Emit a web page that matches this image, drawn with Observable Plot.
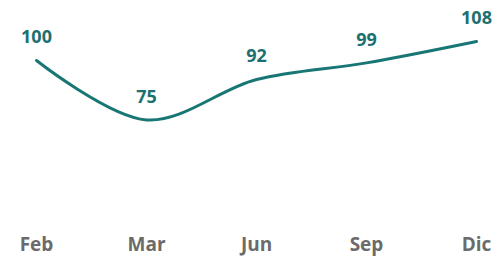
<!DOCTYPE html>
<html>
<head>
<meta charset="utf-8">
<script src="https://cdn.jsdelivr.net/npm/d3@7"></script>
<script src="https://cdn.jsdelivr.net/npm/@observablehq/plot@0.6"></script>
<style>
  html, body { margin: 0; padding: 0; background: #fff; }
  svg { display: block; }
</style>
</head>
<body>
<div id="chart"></div>
<script>
const months = ["Feb", "Mar", "Jun", "Sep", "Dic"];
const values = [100, 75, 92, 99, 108];

const data = months.map((m, i) => ({month: m, value: values[i]}));

const chart = Plot.plot({
  width: 496,
  height: 256,
  margin: 0,
  style: {fontFamily: "'Open Sans', sans-serif", background: "#fff"},
  x: {type: "point", domain: months, range: [34, 477], padding: 0, axis: null},
  y: {domain: [75, 108], range: [119.4, 41], axis: null},
  marks: [
    Plot.line(data, {x: "month", y: "value", curve: "catmull-rom", stroke: "#187674", strokeWidth: 3}),
    Plot.text(data, {x: "month", y: "value", text: d => String(d.value), dy: -23, fill: "#1d7070", fontSize: 18, fontWeight: "bold"}),
    Plot.text(months, {x: d => d, text: d => d, frameAnchor: "bottom", lineAnchor: "middle", dy: -12, fill: "#6b6b6b", fontSize: 19, fontWeight: "bold"})
  ]
});
document.getElementById("chart").appendChild(chart);
</script>
</body>
</html>
